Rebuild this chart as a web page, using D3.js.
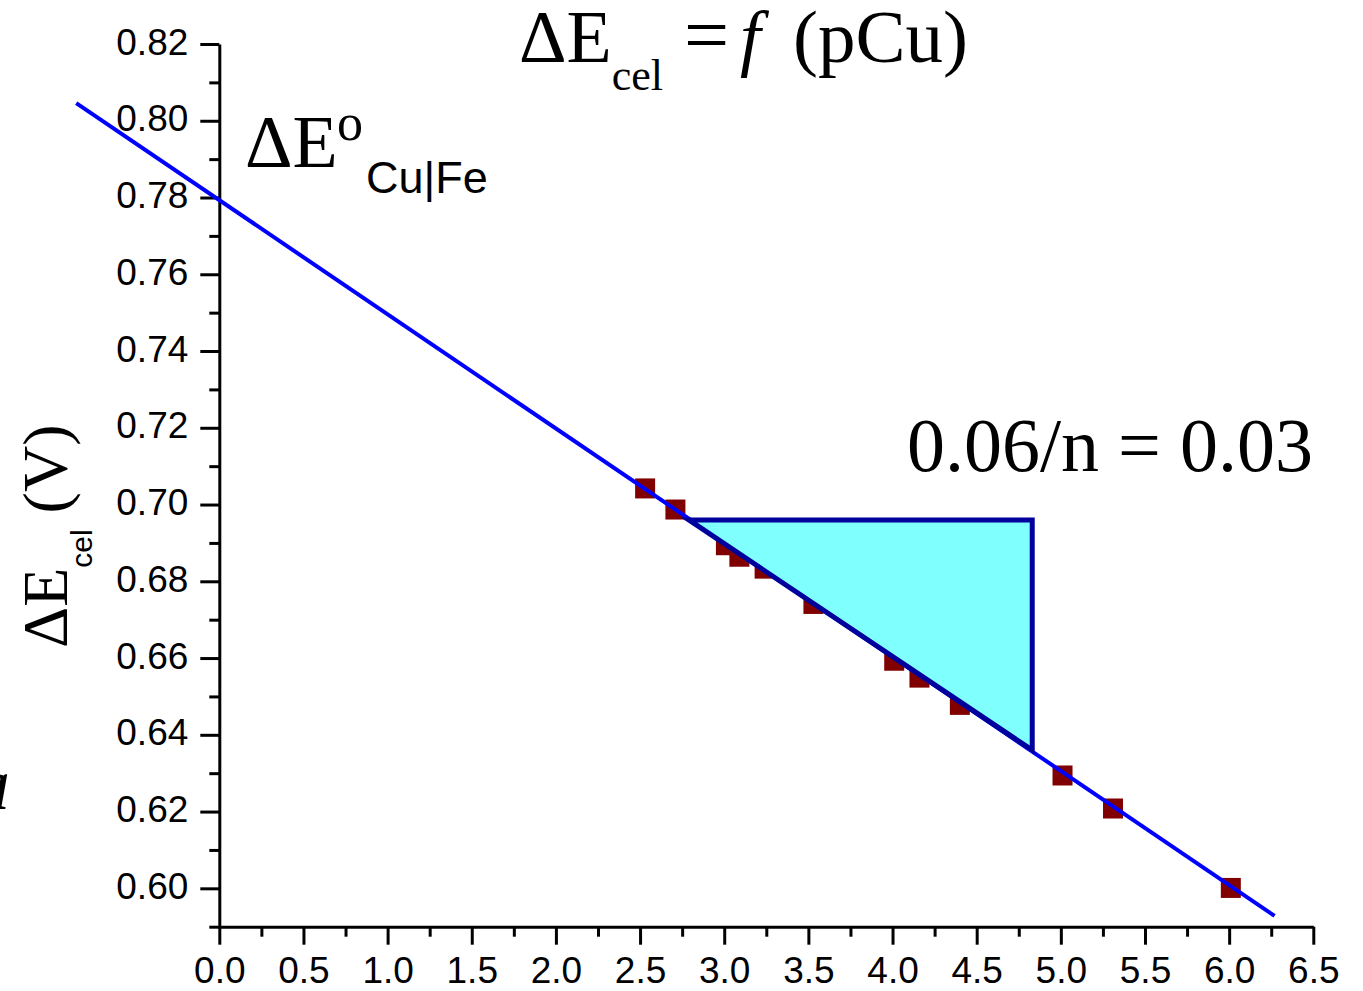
<!DOCTYPE html>
<html>
<head>
<meta charset="utf-8">
<script src="https://cdn.jsdelivr.net/npm/d3@7"></script>
<style>
body{margin:0;background:#fff;}
svg{display:block;}
text{white-space:pre;}
.axis text{font-family:"Liberation Sans",Arial,sans-serif;font-size:37px;fill:#000;}
.axis path,.axis line{stroke:#000;stroke-width:3;}
.serif{font-family:"Liberation Serif","Times New Roman",serif;}
.sans{font-family:"Liberation Sans",Arial,sans-serif;}
</style>
</head>
<body>
<svg width="1363" height="991"></svg>
<script>
// measured points (pCu, cell potential in V)
const pCu=[2.53,2.71,3.01,3.09,3.24,3.53,4.01,4.16,4.40,5.01,5.31,6.01];
const dE=[0.7042,0.6987,0.6894,0.6864,0.6833,0.6741,0.6593,0.6549,0.6478,0.6294,0.6208,0.6001];
// fitted straight line, ends
const fitX=[-0.85,6.27];
const fitY=[0.8046,0.5928];
// slope triangle
const triX=[2.79,4.83,4.83];
const triY=[0.696,0.696,0.636];
// ticks
const xTicks=[0,0.5,1,1.5,2,2.5,3,3.5,4,4.5,5,5.5,6,6.5];
const yTicks=[0.60,0.62,0.64,0.66,0.68,0.70,0.72,0.74,0.76,0.78,0.80,0.82];
const xMinor=d3.range(0.25,6.5,0.5);
const yMinor=d3.range(0.59,0.82,0.02);

const svg=d3.select("svg");
const x=d3.scaleLinear().domain([0,6.5]).range([219.3,1313.3]);
const y=d3.scaleLinear().domain([0.59,0.82]).range([926.7,44]);

//AXES
svg.append("g").attr("class","axis")
   .attr("transform","translate(0,926.7)")
   .call(d3.axisBottom(x).tickValues(xMinor).tickSize(10).tickSizeOuter(0).tickFormat(""))
   .select(".domain").remove();
svg.append("g").attr("class","axis")
   .attr("transform","translate(219.3,0)")
   .call(d3.axisLeft(y).tickValues(yMinor).tickSize(10).tickSizeOuter(0).tickFormat(""))
   .select(".domain").remove();

const xAxis=svg.append("g").attr("class","axis")
   .attr("transform","translate(0,926.7)")
   .call(d3.axisBottom(x).tickValues(xTicks).tickSize(18).tickSizeOuter(0).tickPadding(12).tickFormat(d3.format(".1f")));
const yAxis=svg.append("g").attr("class","axis")
   .attr("transform","translate(219.3,0)")
   .call(d3.axisLeft(y).tickValues(yTicks).tickSize(19).tickSizeOuter(0).tickPadding(12).tickFormat(d3.format(".2f")));
yAxis.selectAll("text").attr("dy","0.27em");
svg.selectAll(".axis").attr("font-size",null).attr("font-family",null);

//POINTS
svg.append("g").selectAll("rect")
   .data(pCu)
   .enter()
   .append("rect")
   .attr("x",(d,i)=>x(d)-10)
   .attr("y",(d,i)=>y(dE[i])-10)
   .attr("width",20)
   .attr("height",20)
   .attr("fill","#800000");

//FIT LINE
svg.append("path")
   .datum(fitX.map((d,i)=>[d,fitY[i]]))
   .attr("d",d3.line().x(d=>x(d[0])).y(d=>y(d[1])))
   .attr("fill","none")
   .attr("stroke","#0000ff")
   .attr("stroke-width",4);

//TRIANGLE
svg.append("path")
   .datum(triX.map((d,i)=>[d,triY[i]]))
   .attr("d",d=>d3.line().x(p=>x(p[0])).y(p=>y(p[1]))(d)+"Z")
   .attr("fill","#80ffff")
   .attr("stroke","#00009c")
   .attr("stroke-width",5)
   .attr("stroke-linejoin","miter");

//TITLE
const t=svg.append("text").attr("class","serif").attr("x",519).attr("y",62).attr("font-size",74);
t.append("tspan").text("ΔE");
t.append("tspan").attr("dy",28).attr("font-size",44).text("cel");
t.append("tspan").attr("x",684).attr("dy",-28).attr("font-size",80).text("=");
t.append("tspan").attr("x",740).attr("font-style","italic").text("f");
t.append("tspan").attr("x",793).attr("font-size",75).text("(pCu)");

//E0 LABEL
const l=svg.append("text").attr("class","serif").attr("x",245).attr("y",167).attr("font-size",74);
l.append("tspan").text("ΔE");
l.append("tspan").attr("x",337).attr("y",140).attr("font-size",52).text("o");
l.append("tspan").attr("class","sans").attr("x",366).attr("y",193).attr("font-size",45).text("Cu|Fe");

//SLOPE LABEL
svg.append("text").attr("class","serif")
   .attr("x",907).attr("y",471).attr("font-size",76)
   .text("0.06/n = 0.03");

//Y LABEL
const yl=svg.append("text").attr("class","serif")
   .attr("transform","translate(66.7,648) rotate(-90)")
   .attr("font-size",64);
yl.append("tspan").text("ΔE");
yl.append("tspan").attr("class","sans").attr("dy",25).attr("font-size",30).text("cel");
yl.append("tspan").attr("dy",-25).text(" (V)");

// stray glyph cut at the left border
svg.append("text").attr("class","serif")
   .attr("x",-27).attr("y",809).attr("font-size",74).attr("font-style","italic")
   .text("a");
</script>
</body>
</html>
